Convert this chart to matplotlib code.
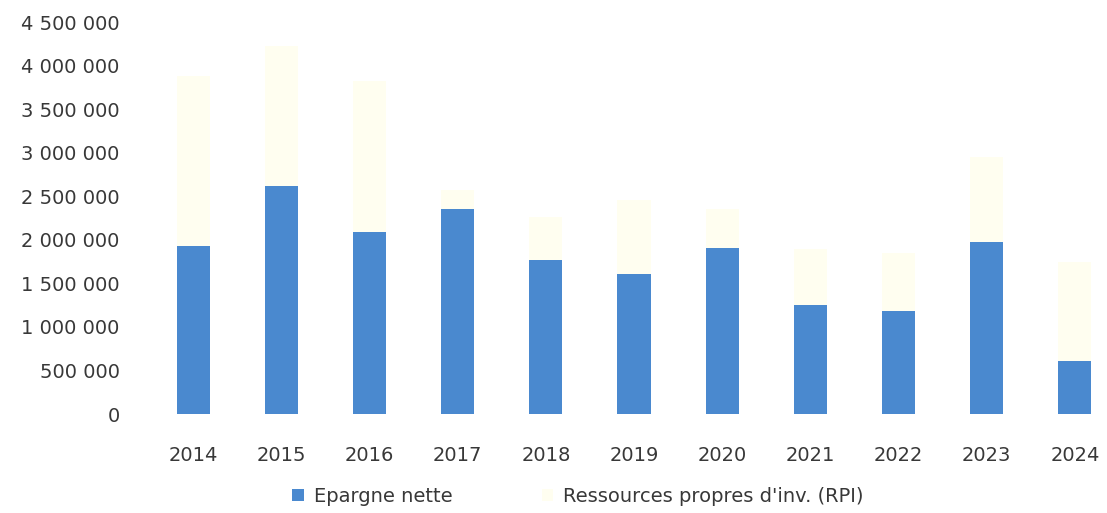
import matplotlib
matplotlib.use("Agg")
import matplotlib.pyplot as plt
from matplotlib.ticker import FuncFormatter

# Séries annuelles (en euros)
annees = ["2014", "2015", "2016", "2017", "2018", "2019",
          "2020", "2021", "2022", "2023", "2024"]
epargne_nette = [1930000, 2620000, 2090000, 2350000, 1770000, 1610000,
                 1910000, 1250000, 1180000, 1980000, 610000]
rpi = [3880000, 4220000, 3820000, 2570000, 2260000, 2460000,
       2350000, 1890000, 1850000, 2950000, 1750000]

BLEU = "#4a89cf"
JAUNE = "#fffef0"
TEXTE = "#383838"

plt.rcParams['font.family'] = ['DejaVu Sans']

fig = plt.figure(figsize=(11.07, 5.13), dpi=100)
ax = fig.add_axes([149 / 1107, 99 / 513, 970 / 1107, 392 / 513])

x = range(len(annees))
largeur = 0.375
ax.bar(x, rpi, width=largeur, color=JAUNE, label="Ressources propres d'inv. (RPI)", zorder=1)
ax.bar(x, epargne_nette, width=largeur, color=BLEU, label="Epargne nette", zorder=2)

ax.set_xlim(-0.5, len(annees) - 0.5)
ax.set_ylim(0, 4500000)
ax.set_yticks(range(0, 4500001, 500000))
ax.yaxis.set_major_formatter(FuncFormatter(lambda v, p: f"{int(v):,}".replace(",", " ")))
ax.set_xticks(list(x))
ax.set_xticklabels(annees)

for s in ax.spines.values():
    s.set_visible(False)
ax.tick_params(axis='both', length=0, labelsize=14, colors=TEXTE)
ax.tick_params(axis='y', pad=21)
ax.tick_params(axis='x', pad=23)

handles, labels = ax.get_legend_handles_labels()
fig.legend(handles[::-1], labels[::-1], loc='center', bbox_to_anchor=(0.522, 0.032),
           ncol=2, frameon=False, fontsize=14, labelcolor=TEXTE,
           handlelength=0.6, handleheight=0.6, handletextpad=0.5, columnspacing=4.6)

fig.savefig("out.png", dpi=100, facecolor="white")
